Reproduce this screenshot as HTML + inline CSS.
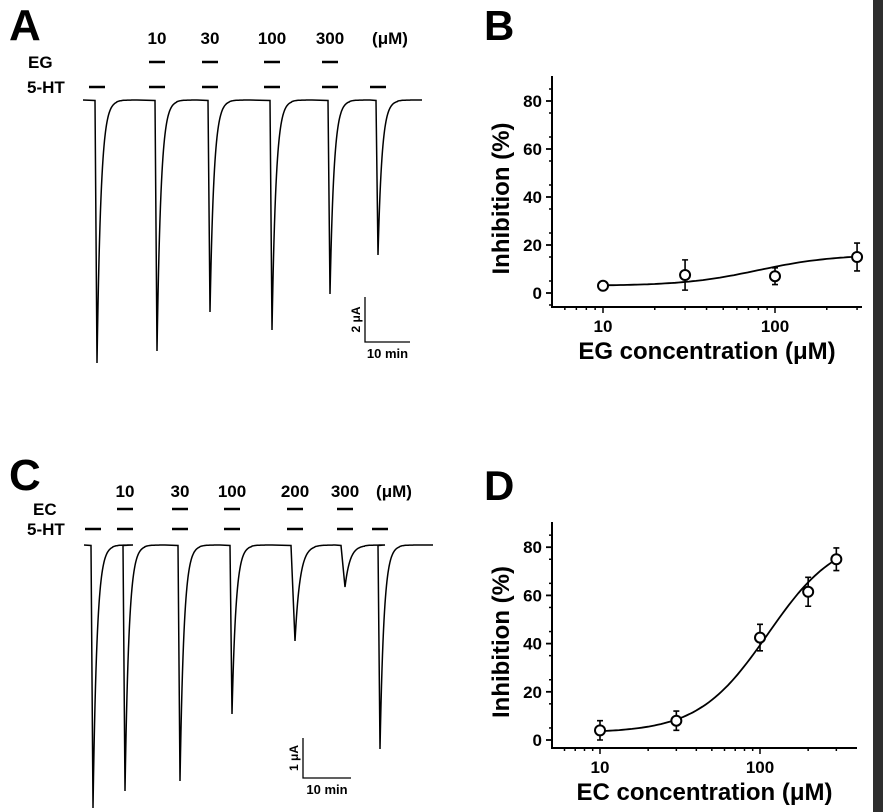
<!DOCTYPE html>
<html><head><meta charset="utf-8"><style>
body{margin:0;background:#fff;}
svg{display:block;font-family:"Liberation Sans",Arial,sans-serif;font-weight:bold;}
</style></head><body>
<svg id="fig" width="883" height="812" viewBox="0 0 883 812">
<rect x="873" y="0" width="10" height="812" fill="#2e2e2e"/>
<g id="pa"></g>
<g id="pb"></g>
<g id="pc"></g>
<g id="pd"></g>
</svg>
<script>
// Panel A data
const aConc = ["10","30","100","300"];
const aPeakX = [97,157,210,272,330,378];
const aAmp = [263,251,212,230,194,155];
// Panel B data
const bConc = [10,30,100,300];
const bMean = [3,7.5,7,15];
const bErr = [0.6,6.3,3.5,5.8];
// Panel C data
const cConc = ["10","30","100","200","300"];
const cPeakX = [93,125,180,232,295,345,380];
const cAmp = [263,246,236,169,96,42,204];
// Panel D data
const dConc = [10,30,100,200,300];
const dMean = [4,8,42.5,61.5,75];
const dErr = [4,4,5.5,6,4.7];
const yTicks = [0,20,40,60,80];
const xTickLabels = ["10","100"];

const NS="http://www.w3.org/2000/svg";
function mk(parent,tag,attrs,text){const e=document.createElementNS(NS,tag);for(const k in attrs)e.setAttribute(k,attrs[k]);if(text!==undefined)e.textContent=text;parent.appendChild(e);return e;}

function traces(g,base,x0,x1,peaks,amps,labels,drug,labelY,drugY,htY,unitX,letter,letterY,drugX,bar){
  const t=mk(g,'text',{x:9,y:letterY,'font-size':44,fill:'#000'},letter);
  
  
  labels.forEach((l,i)=>{const e=mk(g,'text',{x:peaks[i+1],y:labelY,'font-size':17,'text-anchor':'middle'},l);
    
    
    const d=mk(g,'line',{x1:peaks[i+1]-8,x2:peaks[i+1]+8,y1:drugY,y2:drugY,stroke:'#000','stroke-width':2.5});
    
    });
  const u=mk(g,'text',{x:unitX,y:labelY,'font-size':17,'text-anchor':'middle'},'(μM)');
  
  
  const dl=mk(g,'text',{x:drugX,y:drugY+6,'font-size':17},drug);
  
  
  const hl=mk(g,'text',{x:27,y:htY+6,'font-size':17},'5-HT');
  
  
  peaks.forEach(p=>{const d=mk(g,'line',{x1:p-8,x2:p+8,y1:htY,y2:htY,stroke:'#000','stroke-width':2.5});
    
    });
  let dstr=`M${x0},${base}`;
  peaks.forEach((p,i)=>{const A=amps[i];const w=A<120?4:2;const tau=A<120?5:4;
    dstr+=` L${p-w},${base+0.5} L${p},${base+A}`;
    for(let s=0.5;s<=40;s+=0.5){dstr+=` L${(p+s).toFixed(1)},${(base+A*Math.exp(-s/tau)+(s<20?0.3:0)).toFixed(1)}`;}
  });
  dstr+=` L${x1},${base}`;
  const tr=mk(g,'path',{d:dstr,fill:'none',stroke:'#000','stroke-width':1.5});
  
  
  const sb=mk(g,'path',{d:`M${bar.x},${bar.y0} V${bar.y1} H${bar.x+bar.w}`,fill:'none',stroke:'#000','stroke-width':1.3});
  
  
  const sv=mk(g,'text',{x:bar.x-5,y:(bar.y0+bar.y1)/2,'font-size':12,'text-anchor':'middle',transform:`rotate(-90 ${bar.x-5} ${(bar.y0+bar.y1)/2})`},bar.v);
  
  
  const sh=mk(g,'text',{x:bar.x+bar.w/2,y:bar.y1+16,'font-size':13,'text-anchor':'middle'},'10 min');
  
  
}
traces(document.getElementById('pa'),100,83,422,aPeakX,aAmp,aConc,'EG',44,62,87,390,'A',40,28,{x:365,y0:297,y1:342,w:45,v:'2 μA'});
traces(document.getElementById('pc'),545,84,433,cPeakX,cAmp,cConc,'EC',497,509,529,394,'C',490,33,{x:303,y0:738,y1:778,w:48,v:'1 μA'});

function doseplot(g,o,conc,mean,err,fit,title,letter){
  const X=v=>o.x10+(Math.log10(v)-1)*o.dec;
  const Y=v=>o.y0-v*o.pu;
  const l=mk(g,'text',{x:484,y:o.letterY,'font-size':42},letter);
  
  
  const ax=mk(g,'path',{d:`M${o.ax},${o.top} V${o.bot} H${o.right}`,fill:'none',stroke:'#000','stroke-width':2});
  
  
  for(let v=-5;v<=85;v+=10){if(Y(v)<o.top||Y(v)>o.bot)continue;
    const t=mk(g,'line',{x1:o.ax,x2:o.ax-3,y1:Y(v),y2:Y(v),stroke:'#000','stroke-width':1.5});
    
    }
  yTicks.forEach(v=>{
    const k=mk(g,'line',{x1:o.ax,x2:o.ax-6,y1:Y(v),y2:Y(v),stroke:'#000','stroke-width':1.8});
    
    
    const t=mk(g,'text',{x:o.ax-10,y:Y(v)+6,'font-size':17,'text-anchor':'end'},String(v));
    
    });
  [6,7,8,9,10,20,30,40,50,60,70,80,90,100,200,300].forEach(v=>{const big=(v===10||v===100);
    const t=mk(g,'line',{x1:X(v),x2:X(v),y1:o.bot,y2:o.bot+(big?6:3),stroke:'#000','stroke-width':1.5});
    
    });
  xTickLabels.forEach(s=>{const t=mk(g,'text',{x:X(+s),y:o.bot+25,'font-size':17,'text-anchor':'middle'},s);
    
    });
  const xt=mk(g,'text',{x:(o.ax+o.right)/2+0,y:o.bot+52,'font-size':24,'text-anchor':'middle'},title);
  
  
  const cy=(o.top+o.bot)/2+7;
  const yt=mk(g,'text',{x:509,y:cy,'font-size':24,'text-anchor':'middle',transform:`rotate(-90 509 ${cy})`},'Inhibition (%)');
  
  
  let d='';for(let lv=1;lv<=Math.log10(conc[conc.length-1])+0.001;lv+=0.02){const c=Math.pow(10,lv);d+=(d?' L':'M')+X(c).toFixed(1)+','+Y(fit(c)).toFixed(1);}
  const f=mk(g,'path',{d:d,fill:'none',stroke:'#000','stroke-width':1.8});
  
  
  conc.forEach((c,i)=>{
    const e=mk(g,'path',{d:`M${X(c)},${Y(mean[i]+err[i])} V${Y(mean[i]-err[i])} M${X(c)-3},${Y(mean[i]+err[i])} h6 M${X(c)-3},${Y(mean[i]-err[i])} h6`,stroke:'#000','stroke-width':1.6,fill:'none'});
    
    
    const p=mk(g,'circle',{cx:X(c),cy:Y(mean[i]),r:5,fill:'#fff',stroke:'#000','stroke-width':2});
    
    
  });
}
doseplot(document.getElementById('pb'),{x10:603,dec:172,y0:293,pu:2.4,ax:552,top:76,bot:307,right:862,letterY:40},bConc,bMean,bErr,
  c=>3+13*Math.pow(c/80,2)/(1+Math.pow(c/80,2)),'EG concentration (μM)','B');
doseplot(document.getElementById('pd'),{x10:600,dec:160,y0:740,pu:2.41,ax:552,top:522,bot:748,right:857,letterY:500},dConc,dMean,dErr,
  c=>3+82*Math.pow(c/112,2)/(1+Math.pow(c/112,2)),'EC concentration (μM)','D');
</script>
</body></html>
